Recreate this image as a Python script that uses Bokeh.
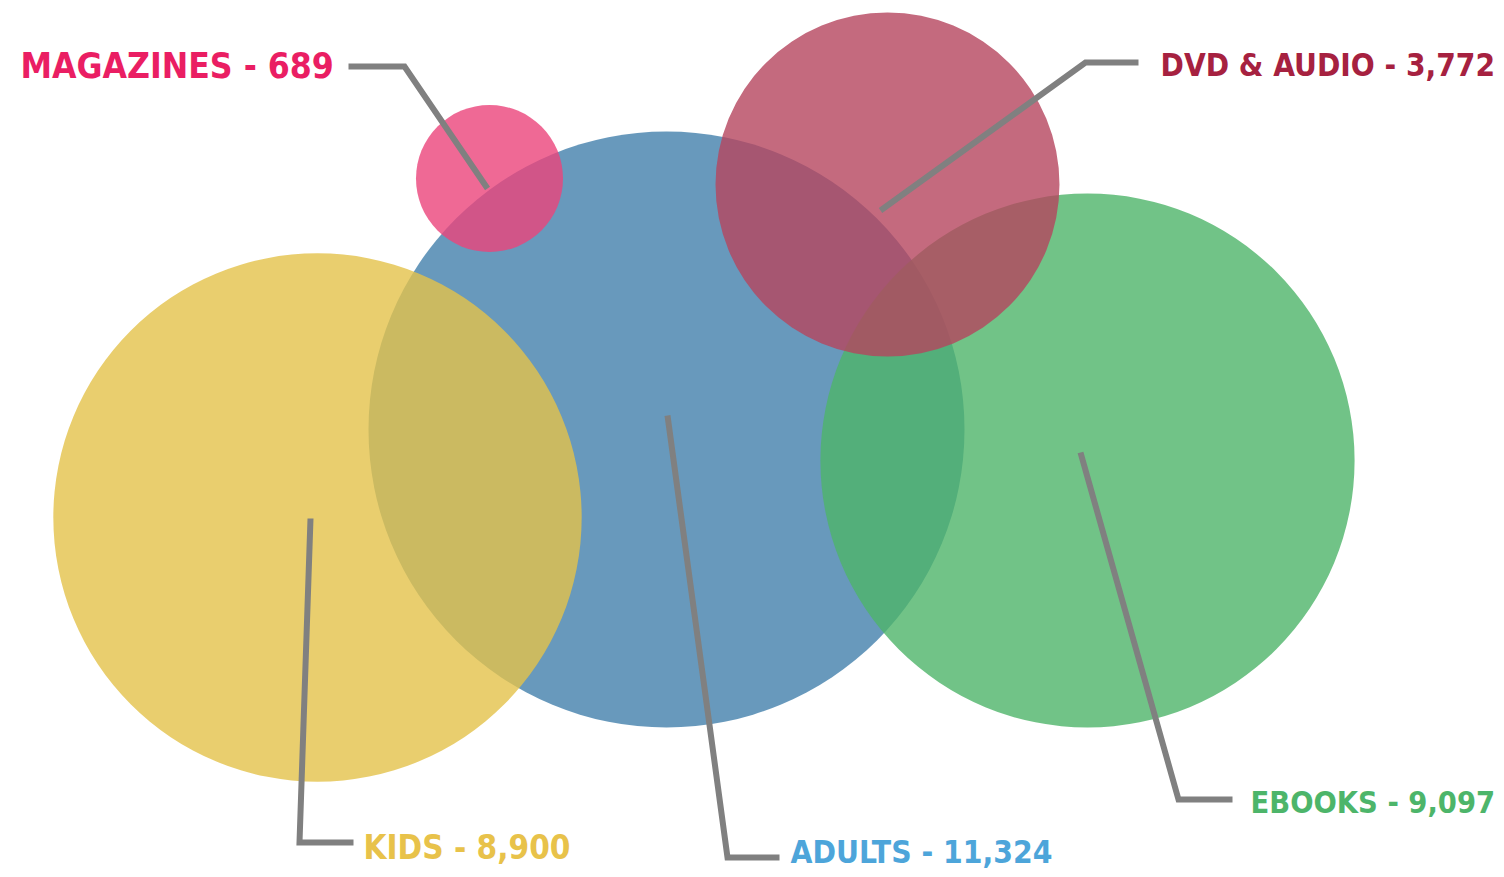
from bokeh.plotting import figure
from bokeh.models import Range1d, ColumnDataSource
from bokeh.core.properties import value
from bokeh.embed import file_html
from bokeh.resources import INLINE
import math

# ---- data ----
categories = ["Magazines", "DVD & Audio", "Kids", "Adults", "Ebooks"]
counts = [689, 3772, 8900, 11324, 9097]

# ---- layout (picture-pixel coordinates) ----
bubble_x = [489, 887, 317, 666, 1087]
bubble_y = [178, 184, 517, 429, 460]
fill_colors = ["#EB447A", "#B5455E", "#E3C24A", "#427FAB", "#4DB469"]
text_colors = ["#EA1E63", "#A62140", "#E8C24A", "#4DA5DA", "#4DB56A"]
draw_order = [3, 2, 4, 1, 0]  # adults, kids, ebooks, dvd, magazines

label_x = [20, 1160, 363, 790, 1250]
label_y = [65, 64, 847, 851, 802]
label_size = ["35.2px", "31.3px", "33px", "31.5px", "30.5px"]
leader_x = [[348, 404, 487], [1138, 1085, 880], [353, 299, 310], [779, 727, 667], [1232, 1178, 1080]]
leader_y = [[66, 66, 188], [62, 62, 210], [842, 842, 518], [857, 857, 415], [799, 799, 452]]

max_r = 298.0
k = max_r / math.sqrt(max(counts))
radii = [k * math.sqrt(v) for v in counts]

W, H = 1500, 873
p = figure(width=W, height=H, output_backend="svg", toolbar_location=None,
           x_range=Range1d(0, W), y_range=Range1d(H, 0),
           min_border=0, outline_line_color=None)
p.axis.visible = False
p.grid.visible = False
p.background_fill_color = "white"
p.border_fill_color = "white"

for i in draw_order:
    src = ColumnDataSource(dict(x=[bubble_x[i]], y=[bubble_y[i]], r=[radii[i]]))
    p.circle(x="x", y="y", radius="r", source=src, fill_color=fill_colors[i],
             fill_alpha=0.8, line_color=None)

for i in range(len(categories)):
    p.line(leader_x[i], leader_y[i], line_color="#808080", line_width=6,
           line_join="miter", line_cap="butt")

labels = ["%s - %s" % (c.upper(), format(v, ",")) for c, v in zip(categories, counts)]
for i in range(len(categories)):
    p.text(x=[label_x[i]], y=[label_y[i]], text=[labels[i]],
           text_font=value("'DejaVu Sans Condensed', Roboto, sans-serif"), text_font_style="bold",
           text_font_size=label_size[i], text_color=text_colors[i],
           text_align="left", text_baseline="middle")

open("out.html", "w").write(file_html(p, INLINE))
